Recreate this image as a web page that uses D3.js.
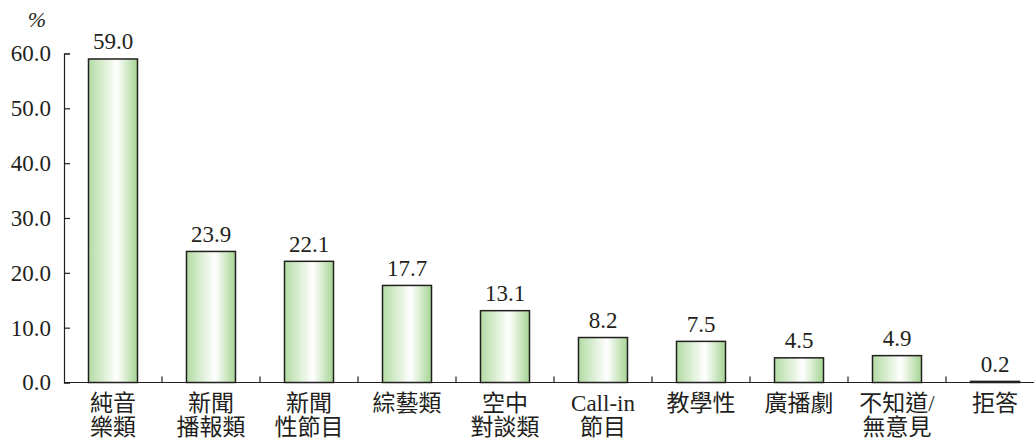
<!DOCTYPE html>
<html>
<head>
<meta charset="utf-8">
<script src="https://cdn.jsdelivr.net/npm/d3@7"></script>
<style>
  body { margin: 0; background: #fff; }
  svg text { font-family: "Liberation Serif", "Times New Roman", Times, "Noto Sans CJK TC", serif; fill: #231f20; }
</style>
</head>
<body>
<script>
// categories (line-broken labels) and percentages
let categories = ["純音樂類", "新聞播報類", "新聞性節目", "綜藝類", "空中對談類", "Call-in節目", "教學性", "廣播劇", "不知道/無意見", "拒答"];
let labelLines = [["純音", "樂類"], ["新聞", "播報類"], ["新聞", "性節目"], ["綜藝類"], ["空中", "對談類"], ["Call-in", "節目"], ["教學性"], ["廣播劇"], ["不知道/", "無意見"], ["拒答"]];
let values = [59.0, 23.9, 22.1, 17.7, 13.1, 8.2, 7.5, 4.5, 4.9, 0.2];
let yTicks = [0, 10, 20, 30, 40, 50, 60];

let w = 1034, h = 440;
let serif = "'Liberation Serif', 'Times New Roman', Times, 'Noto Sans CJK TC', serif";

let svg = d3.select("body").append("svg").attr("width", w).attr("height", h);

let defs = svg.append("defs");
let grad = defs.append("linearGradient").attr("id", "barGrad")
  .attr("x1", "0%").attr("x2", "100%").attr("y1", "0%").attr("y2", "0%");
grad.append("stop").attr("offset", "0%").attr("stop-color", "#b3dca3");
grad.append("stop").attr("offset", "58%").attr("stop-color", "#ffffff");
grad.append("stop").attr("offset", "100%").attr("stop-color", "#a5d592");

let x = d3.scaleBand().domain(categories).range([64, 1044]).padding(0);
let y = d3.scaleLinear().domain([0, 60]).range([382.5, 53.5]);
let barW = x.bandwidth() * 0.5;

// y axis
let yAxis = d3.axisLeft(y).tickValues(yTicks).tickFormat(d3.format(".1f")).tickSize(-6).tickPadding(13);
let gy = svg.append("g").attr("transform", "translate(64,0)").call(yAxis)
  .attr("font-family", serif).attr("font-size", 23);
gy.select(".domain").attr("stroke", "#231f20").attr("stroke-width", 1.2);
gy.selectAll(".tick line").attr("stroke", "#231f20").attr("stroke-width", 1.2);
gy.selectAll(".tick text").attr("fill", "#231f20");

// x axis baseline + inward ticks between categories
svg.append("line").attr("x1", 64).attr("x2", w).attr("y1", y(0)).attr("y2", y(0))
  .attr("stroke", "#231f20").attr("stroke-width", 1.2);
svg.selectAll(".xtick").data(categories.slice(1)).enter().append("line")
  .attr("class", "xtick")
  .attr("x1", d => x(d)).attr("x2", d => x(d))
  .attr("y1", y(0)).attr("y2", y(0) - 6)
  .attr("stroke", "#231f20").attr("stroke-width", 1.2);

// bars
svg.selectAll(".bar").data(values).enter().append("rect")
  .attr("class", "bar")
  .attr("x", (d, i) => x(categories[i]) + (x.bandwidth() - barW) / 2)
  .attr("y", d => y(d))
  .attr("width", barW)
  .attr("height", d => y(0) - y(d))
  .attr("fill", "url(#barGrad)")
  .attr("stroke", "#231f20")
  .attr("stroke-width", 1.5);

// value labels
svg.selectAll(".val").data(values).enter().append("text")
  .attr("class", "val")
  .attr("x", (d, i) => x(categories[i]) + x.bandwidth() / 2)
  .attr("y", d => y(d) - 9.5)
  .attr("text-anchor", "middle")
  .attr("font-family", serif)
  .attr("font-size", 23)
  .text(d => d.toFixed(1));

// category labels
let lbl = svg.selectAll(".cat").data(labelLines).enter().append("text")
  .attr("class", "cat")
  .attr("text-anchor", "middle")
  .attr("font-family", serif)
  .attr("font-size", 23)
  .attr("x", (d, i) => x(categories[i]) + x.bandwidth() / 2);
lbl.selectAll("tspan").data(d => d).enter().append("tspan")
  .attr("x", function() { return d3.select(this.parentNode).attr("x"); })
  .attr("y", (d, j) => 411 + j * 23.5)
  .text(d => d);

// unit
svg.append("text").attr("x", 37).attr("y", 27).attr("text-anchor", "middle")
  .attr("font-family", serif).attr("font-size", 22).attr("font-style", "italic").text("%");
</script>
</body>
</html>
